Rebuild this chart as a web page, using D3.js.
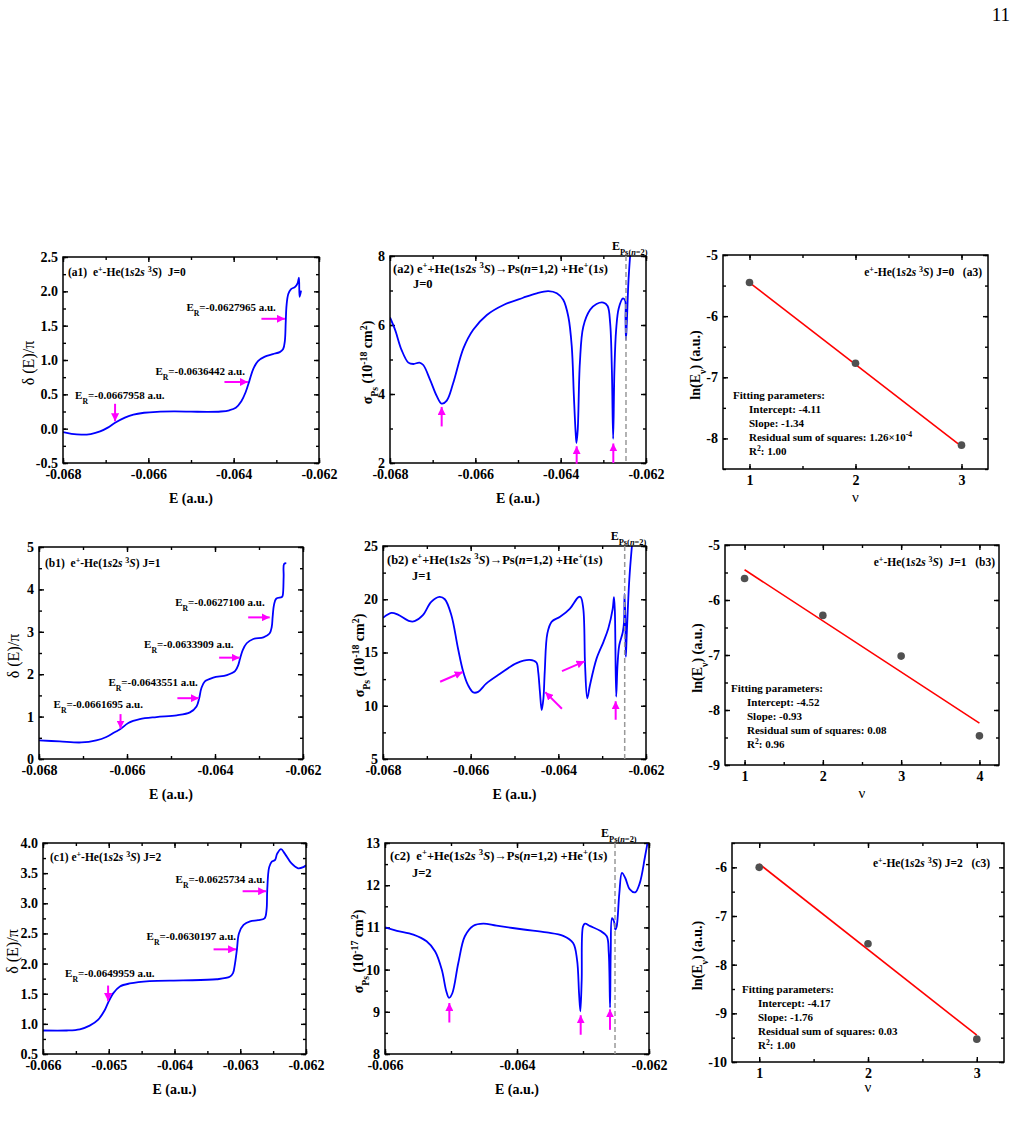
<!DOCTYPE html>
<html>
<head>
<meta charset="utf-8">
<script src="https://cdn.jsdelivr.net/npm/d3@7"></script>
<style>
  body { margin: 0; background: #fff; }
  svg text { white-space: pre; }
</style>
</head>
<body>
<svg id="fig" width="1016" height="1129"></svg>
<script>
// ---------------- data ----------------
// phase shift delta(E)/pi vs E (a.u.)
const a1Phase = [
  [-0.06800,-0.050],[-0.06780,-0.075],[-0.06757,-0.087],[-0.06735,-0.078],[-0.06713,-0.040],
  [-0.06695,0.015],[-0.06678,0.085],[-0.06655,0.160],[-0.06635,0.205],[-0.06610,0.232],
  [-0.06580,0.246],[-0.06540,0.251],[-0.06500,0.248],[-0.06460,0.244],[-0.06430,0.250],
  [-0.06410,0.268],[-0.06395,0.305],[-0.06382,0.400],[-0.06372,0.530],[-0.06363,0.700],
  [-0.06354,0.870],[-0.06343,0.985],[-0.06328,1.045],[-0.06308,1.085],[-0.06292,1.115],
  [-0.06284,1.160],[-0.06280,1.280],[-0.06278,1.550],[-0.06276,1.800],[-0.06272,1.960],
  [-0.06266,2.030],[-0.06256,2.065],[-0.06250,2.120],[-0.06247,2.200],[-0.062455,1.920],[-0.06242,2.010]
];
const b1Phase = [
  [-0.06800,0.44],[-0.06753,0.415],[-0.06704,0.39],[-0.06670,0.44],[-0.06647,0.52],[-0.06628,0.63],
  [-0.06615,0.705],[-0.06597,0.85],[-0.06571,0.94],[-0.06533,0.99],[-0.06487,1.03],[-0.06457,1.10],
  [-0.06442,1.24],[-0.06436,1.43],[-0.06431,1.67],[-0.06423,1.83],[-0.06404,1.92],[-0.06373,1.98],
  [-0.06354,2.08],[-0.06347,2.22],[-0.06343,2.37],[-0.06337,2.57],[-0.06328,2.73],[-0.06313,2.83],
  [-0.06290,2.87],[-0.06276,2.96],[-0.06271,3.12],[-0.06269,3.35],[-0.06266,3.63],[-0.06261,3.78],
  [-0.06248,3.82],[-0.06246,3.86],[-0.06244,4.30],[-0.06243,4.60],[-0.06238,4.62]
];
const c1Phase = [
  [-0.06600,0.89],[-0.06564,0.89],[-0.06544,0.91],[-0.06529,0.97],[-0.06516,1.07],[-0.06506,1.23],
  [-0.06501,1.35],[-0.06493,1.51],[-0.06483,1.62],[-0.06468,1.67],[-0.06438,1.71],[-0.06387,1.72],
  [-0.06336,1.74],[-0.06316,1.78],[-0.06311,1.84],[-0.06308,2.00],[-0.06305,2.24],[-0.06302,2.50],
  [-0.06295,2.64],[-0.06285,2.70],[-0.06273,2.72],[-0.06263,2.75],[-0.06260,2.89],[-0.06259,3.21],
  [-0.06256,3.60],[-0.06252,3.69],[-0.06247,3.72],[-0.06244,3.82],[-0.06238,3.90],[-0.06232,3.82],
  [-0.06222,3.66],[-0.06212,3.58],[-0.06204,3.60],[-0.06200,3.63]
];

// Ps formation cross sections vs E (a.u.)
const a2Sigma = [
  [-0.06800,6.22],[-0.06788,5.86],[-0.06773,5.28],[-0.06757,4.91],[-0.06745,4.87],[-0.06731,4.91],
  [-0.06722,4.84],[-0.06706,4.41],[-0.06690,3.93],[-0.06679,3.72],[-0.06667,3.81],[-0.06652,4.31],
  [-0.06628,5.32],[-0.06605,5.86],[-0.06573,6.29],[-0.06534,6.58],[-0.06488,6.79],[-0.06456,6.92],
  [-0.06429,6.98],[-0.06409,6.92],[-0.06394,6.73],[-0.06382,6.24],[-0.06374,5.38],[-0.06369,3.93],
  [-0.06365,2.90],[-0.06363,2.58],[-0.06360,2.96],[-0.06355,4.90],[-0.06347,5.95],[-0.06331,6.44],
  [-0.06316,6.61],[-0.06300,6.65],[-0.06290,6.55],[-0.06284,6.05],[-0.06280,4.70],[-0.06277,2.70],
  [-0.06274,4.70],[-0.06270,5.86],[-0.06264,6.48],[-0.06254,6.77],[-0.06249,6.71],[-0.06248,6.20],
  [-0.06247,5.57],[-0.06245,6.05],[-0.06241,7.30],[-0.06236,8.20]
];
const b2Sigma = [
  [-0.06800,18.25],[-0.06781,18.72],[-0.06766,18.56],[-0.06739,17.94],[-0.06728,17.94],[-0.06709,18.50],
  [-0.06690,19.75],[-0.06671,20.22],[-0.06659,20.00],[-0.06644,18.50],[-0.06629,15.40],[-0.06617,13.20],
  [-0.06606,11.94],[-0.06594,11.25],[-0.06583,11.30],[-0.06564,12.10],[-0.06533,13.00],[-0.06495,14.00],
  [-0.06465,14.30],[-0.06450,14.06],[-0.06446,13.20],[-0.06442,11.30],[-0.06438,9.60],[-0.06434,10.70],
  [-0.06431,13.20],[-0.06425,16.80],[-0.06415,17.90],[-0.06396,18.35],[-0.06374,19.10],[-0.06354,20.20],
  [-0.06349,20.20],[-0.06343,19.10],[-0.06339,13.80],[-0.06334,10.70],[-0.06328,11.90],[-0.06313,14.40],
  [-0.06297,16.00],[-0.06286,17.25],[-0.06276,19.10],[-0.06273,20.20],[-0.06271,18.80],[-0.06268,10.85],
  [-0.06265,13.80],[-0.06261,15.70],[-0.06253,16.90],[-0.06250,17.90],[-0.06249,20.50],[-0.06247,18.10],
  [-0.06246,14.60],[-0.06244,16.60],[-0.06238,21.90],[-0.06230,26.00]
];
const c2Sigma = [
  [-0.06600,11.00],[-0.06582,10.92],[-0.06557,10.83],[-0.06537,10.67],[-0.06524,10.43],[-0.06514,10.00],
  [-0.06507,9.48],[-0.06503,9.33],[-0.06498,9.44],[-0.06489,10.15],[-0.06479,10.79],[-0.06466,11.04],
  [-0.06451,11.09],[-0.06431,11.04],[-0.06390,10.95],[-0.06355,10.88],[-0.06330,10.80],[-0.06315,10.63],
  [-0.06309,10.23],[-0.06306,9.44],[-0.06304,9.01],[-0.06302,9.75],[-0.06300,11.02],[-0.06297,11.09],
  [-0.06289,11.03],[-0.06274,10.92],[-0.06264,10.79],[-0.06261,10.40],[-0.06259,9.10],[-0.06258,10.40],
  [-0.06256,11.22],[-0.06253,11.14],[-0.06251,10.95],[-0.06249,11.02],[-0.06245,11.80],[-0.06241,12.29],
  [-0.06236,12.17],[-0.06229,11.90],[-0.06221,11.83],[-0.06214,12.05],[-0.06206,12.68],[-0.06200,13.20]
];

// Ps(n=2) threshold position (dashed lines)
const ePsThreshold = { a2: -0.062469, b2: -0.062486, c2: -0.062515 };

// ln(E_nu) vs nu, and the linear fits
const a3Nu = [1, 2, 3];
const a3LnE = [-5.45, -6.77, -8.11];
const b3Nu = [1, 2, 3, 4];
const b3LnE = [-5.61, -6.28, -7.02, -8.47];
const c3Nu = [1, 2, 3];
const c3LnE = [-6.00, -7.57, -9.53];
const a3Fit = { intercept: -4.11, slope: -1.34 };
const b3Fit = { intercept: -4.52, slope: -0.93 };
const c3Fit = { intercept: -4.17, slope: -1.76 };

// resonance markers: tip in data coords
const a1Res = [
  { E: -0.06678, v: 0.10, label: "E_{R}=-0.0667958 a.u." },
  { E: -0.063654, v: 0.68, label: "E_{R}=-0.0636442 a.u." },
  { E: -0.062787, v: 1.60, label: "E_{R}=-0.0627965 a.u." }
];
const b1Res = [
  { E: -0.066147, v: 0.705, label: "E_{R}=-0.0661695 a.u." },
  { E: -0.064355, v: 1.434, label: "E_{R}=-0.0643551 a.u." },
  { E: -0.063429, v: 2.39, label: "E_{R}=-0.0633909 a.u." },
  { E: -0.062746, v: 3.34, label: "E_{R}=-0.0627100 a.u." }
];
const c1Res = [
  { E: -0.065010, v: 1.37, label: "E_{R}=-0.0649959 a.u." },
  { E: -0.063056, v: 2.236, label: "E_{R}=-0.0630197 a.u." },
  { E: -0.062599, v: 3.20, label: "E_{R}=-0.0625734 a.u." }
];
const a2Res = [ { E: -0.066789, v: 3.64 }, { E: -0.063625, v: 2.50 }, { E: -0.062766, v: 2.58 } ];
const b2Res = [ { E: -0.066172, v: 13.19 }, { E: -0.064306, v: 11.31 }, { E: -0.063392, v: 14.19 }, { E: -0.062692, v: 10.47 } ];
const c2Res = [ { E: -0.065025, v: 9.22 }, { E: -0.063035, v: 8.93 }, { E: -0.062591, v: 9.07 } ];

// ---------------- layout / style ----------------
const SERIF = "'Liberation Serif','Times New Roman',serif";
const BLUE = "#0000ff", MAGENTA = "#ff00ff", RED = "#ff0000";
const TICK_FONT = 14;

// arrow geometry (tail offset from tip, px) and label offset from tip (px)
const a1ArrowGeo = [ { tail: [0, -18], lab: [-40, -23] }, { tail: [-24, 0], lab: [-93, -7] }, { tail: [-24, 0], lab: [-99, -8] } ];
const b1ArrowGeo = [ { tail: [0, -15], lab: [-67, -21] }, { tail: [-22, 0], lab: [-91, -12] }, { tail: [-21, 0], lab: [-96, -10] }, { tail: [-22, 0], lab: [-95, -11] } ];
const c1ArrowGeo = [ { tail: [0, -16], lab: [-43, -25] }, { tail: [-23, 0], lab: [-90, -9] }, { tail: [-24, 0], lab: [-91, -8] } ];
const a2ArrowGeo = [ { tail: [0, 20] }, { tail: [0, 18] }, { tail: [0, 20] } ];
const b2ArrowGeo = [ { tail: [-23, 10] }, { tail: [17, 17] }, { tail: [-23, 10] }, { tail: [0, 19] } ];
const c2ArrowGeo = [ { tail: [0, 20] }, { tail: [0, 20] }, { tail: [0, 21] } ];

const svg = d3.select("#fig");
const defs = svg.append("defs");
defs.append("marker")
  .attr("id", "ahead").attr("markerUnits", "userSpaceOnUse")
  .attr("viewBox", "0 0 10 10").attr("refX", 10).attr("refY", 5)
  .attr("markerWidth", 8).attr("markerHeight", 8).attr("orient", "auto")
  .append("path").attr("d", "M0,0 L10,5 L0,10 z").attr("fill", MAGENTA);

// tiny markup: ^{..} superscript, _{..} subscript, *..* italic
function rich(sel, str) {
  let italic = false, shift = null, buf = "";
  const flush = () => {
    if (!buf) return;
    const t = sel.append("tspan").text(buf);
    if (italic) t.attr("font-style", "italic");
    if (shift) t.attr("baseline-shift", shift === "^" ? "super" : "sub").attr("font-size", "70%");
    buf = "";
  };
  for (let i = 0; i < str.length; i++) {
    const c = str[i];
    if ((c === "^" || c === "_") && str[i + 1] === "{") { flush(); shift = c; i++; }
    else if (c === "}" && shift) { flush(); shift = null; }
    else if (c === "*") { flush(); italic = !italic; }
    else buf += c;
  }
  flush();
  return sel;
}

function label(g, x, y, str, o = {}) {
  const t = g.append("text")
    .attr("x", x).attr("y", y)
    .attr("font-family", SERIF)
    .attr("font-size", o.size || 12)
    .attr("font-weight", o.weight || "bold")
    .attr("text-anchor", o.anchor || "start")
    .attr("fill", "#000");
  if (o.rotate) t.attr("transform", `rotate(-90,${x},${y})`);
  return rich(t, str);
}

function steps(d, step) {
  const lo = Math.min(d[0], d[1]), hi = Math.max(d[0], d[1]);
  const out = [];
  for (let k = Math.ceil(lo / step - 1e-6); k * step <= hi + 1e-9; k++) out.push(+(k * step).toFixed(7));
  return out;
}

function styleAxis(a) {
  a.select(".domain").remove();
  a.selectAll("line").attr("stroke", "#000").attr("stroke-width", 1.4);
  a.selectAll("text").attr("font-family", SERIF).attr("font-size", TICK_FONT).attr("font-weight", "bold").attr("fill", "#000");
}

// draw frame, axes and return scales
function panel(p) {
  const g = svg.append("g");
  const x = d3.scaleLinear().domain(p.xd).range([p.L, p.R]);
  const y = d3.scaleLinear().domain(p.yd).range([p.B, p.T]);
  const xMaj = steps(p.xd, p.xs), xMin = steps(p.xd, p.xs / 2);
  const yMaj = steps(p.yd, p.ys), yMin = steps(p.yd, p.ys / 2);
  const fx = d => d.toFixed(p.xdig), fy = d => d.toFixed(p.ydig);

  g.append("g").attr("transform", `translate(0,${p.B})`)
    .call(d3.axisBottom(x).tickValues(xMin).tickSize(-3).tickFormat("")).call(styleAxis);
  g.append("g").attr("transform", `translate(0,${p.B})`)
    .call(d3.axisBottom(x).tickValues(xMaj).tickSize(-5).tickPadding(6).tickFormat(fx)).call(styleAxis);
  g.append("g").attr("transform", `translate(0,${p.T})`)
    .call(d3.axisTop(x).tickValues(xMin).tickSize(-3).tickFormat("")).call(styleAxis);
  g.append("g").attr("transform", `translate(0,${p.T})`)
    .call(d3.axisTop(x).tickValues(xMaj).tickSize(-5).tickFormat("")).call(styleAxis);
  g.append("g").attr("transform", `translate(${p.L},0)`)
    .call(d3.axisLeft(y).tickValues(yMin).tickSize(-3).tickFormat("")).call(styleAxis);
  g.append("g").attr("transform", `translate(${p.L},0)`)
    .call(d3.axisLeft(y).tickValues(yMaj).tickSize(-5).tickPadding(5).tickFormat(fy)).call(styleAxis);
  g.append("g").attr("transform", `translate(${p.R},0)`)
    .call(d3.axisRight(y).tickValues(yMin).tickSize(-3).tickFormat("")).call(styleAxis);
  g.append("g").attr("transform", `translate(${p.R},0)`)
    .call(d3.axisRight(y).tickValues(yMaj).tickSize(-5).tickFormat("")).call(styleAxis);

  const clipId = "clip-" + p.id;
  defs.append("clipPath").attr("id", clipId).append("rect")
    .attr("x", p.L).attr("y", p.T).attr("width", p.R - p.L).attr("height", p.B - p.T);
  const plot = g.append("g").attr("clip-path", `url(#${clipId})`);

  g.append("rect").attr("x", p.L).attr("y", p.T).attr("width", p.R - p.L).attr("height", p.B - p.T)
    .attr("fill", "none").attr("stroke", "#000").attr("stroke-width", 1.5);

  // axis titles
  label(g, (p.L + p.R) / 2, p.B + (p.xTitleDy || 40), p.xTitle, { anchor: "middle", size: p.xTitleSize || 14, weight: p.xTitleWeight || "bold" });
  label(g, p.L + p.yTitleDx, (p.T + p.B) / 2 + 3, p.yTitle, { anchor: "middle", size: p.yTitleSize || 14, weight: p.yTitleWeight || "bold", rotate: true });

  return { g, plot, x, y };
}

const curveLine = (x, y) => d3.line().x(d => x(d[0])).y(d => y(d[1])).curve(d3.curveCatmullRom.alpha(0.5));

function drawCurve(c, data) {
  c.plot.append("path").datum(data)
    .attr("d", curveLine(c.x, c.y))
    .attr("fill", "none").attr("stroke", BLUE).attr("stroke-width", 1.8);
}

function drawArrows(c, res, geo) {
  res.forEach((r, i) => {
    const tx = c.x(r.E), ty = c.y(r.v);
    const [dx, dy] = geo[i].tail;
    const len = Math.hypot(dx, dy), ux = -dx / len, uy = -dy / len;
    c.g.append("line")
      .attr("x1", tx + dx).attr("y1", ty + dy)
      .attr("x2", tx - ux * 0.5).attr("y2", ty - uy * 0.5)
      .attr("stroke", MAGENTA).attr("stroke-width", 2)
      .attr("marker-end", "url(#ahead)");
    if (r.label) label(c.g, tx + geo[i].lab[0], ty + geo[i].lab[1], r.label, { size: 11 });
  });
}

function drawThreshold(c, E, p) {
  c.g.append("line")
    .attr("x1", c.x(E)).attr("x2", c.x(E)).attr("y1", p.T).attr("y2", p.B)
    .attr("stroke", "#999").attr("stroke-width", 1.5).attr("stroke-dasharray", "5,3");
  label(c.g, c.x(E) - 14, p.T - 6, "E_{Ps(*n*=2)}", { size: 12 });
}

function drawFit(c, nu, lnE, fit) {
  const ends = [d3.min(nu), d3.max(nu)];
  c.plot.append("line")
    .attr("x1", c.x(ends[0])).attr("y1", c.y(fit.intercept + fit.slope * ends[0]))
    .attr("x2", c.x(ends[1])).attr("y2", c.y(fit.intercept + fit.slope * ends[1]))
    .attr("stroke", RED).attr("stroke-width", 1.6);
  c.plot.selectAll("circle.pt").data(nu.map((n, i) => [n, lnE[i]])).join("circle")
    .attr("class", "pt").attr("cx", d => c.x(d[0])).attr("cy", d => c.y(d[1])).attr("r", 3.8)
    .attr("fill", "#505050");
}

function fitText(c, x0, y0, lines) {
  label(c.g, x0, y0, "Fitting parameters:", { size: 11 });
  lines.forEach((s, i) => label(c.g, x0 + 16, y0 + 14 * (i + 1), s, { size: 11 }));
}

const ET = "E (a.u.)";
const PHASE = "δ (E)/π";
const LNE = "ln(E_{ν}) (a.u.)";

// ---------------- panels ----------------
const pA1 = { id: "a1", L: 63, T: 257, R: 319, B: 463, xd: [-0.068, -0.062], xs: 0.002, xdig: 3, yd: [-0.5, 2.5], ys: 0.5, ydig: 1,
  xTitle: ET, yTitle: PHASE, yTitleDx: -29, yTitleSize: 16, yTitleWeight: "normal" };
const cA1 = panel(pA1);
drawCurve(cA1, a1Phase);
drawArrows(cA1, a1Res, a1ArrowGeo);
label(cA1.g, pA1.L + 5, pA1.T + 19, "(a1)  e^{+}-He(1*s*2*s* ^{3}*S*)  J=0", { size: 11.5 });

const pA2 = { id: "a2", L: 390, T: 256, R: 646, B: 463, xd: [-0.068, -0.062], xs: 0.002, xdig: 3, yd: [2, 8], ys: 2, ydig: 0,
  xTitle: ET, yTitle: "σ_{Ps} (10^{-18} cm^{2})", yTitleDx: -18 };
const cA2 = panel(pA2);
drawCurve(cA2, a2Sigma);
drawThreshold(cA2, ePsThreshold.a2, pA2);
drawArrows(cA2, a2Res, a2ArrowGeo);
label(cA2.g, pA2.L + 3, pA2.T + 17, "(a2) e^{+}+He(1*s*2*s* ^{3}*S*)→Ps(*n*=1,2) +He^{+}(1*s*)", { size: 12.5 });
label(cA2.g, pA2.L + 23, pA2.T + 32, "J=0", { size: 12.5 });

const pA3 = { id: "a3", L: 723, T: 255, R: 988, B: 469, xd: [0.75, 3.25], xs: 1, xdig: 0, yd: [-8.5, -5], ys: 1, ydig: 0,
  xTitle: "ν", xTitleWeight: "normal", xTitleSize: 15, xTitleDy: 33, yTitle: LNE, yTitleDx: -23 };
const cA3 = panel(pA3);
drawFit(cA3, a3Nu, a3LnE, a3Fit);
label(cA3.g, pA3.R - 6, pA3.T + 21, "e^{+}-He(1*s*2*s* ^{3}*S*) J=0   (a3)", { size: 11.5, anchor: "end" });
fitText(cA3, pA3.L + 10, pA3.B - 70, ["Intercept: " + a3Fit.intercept.toFixed(2), "Slope: " + a3Fit.slope.toFixed(2),
  "Residual sum of squares: 1.26×10^{-4}", "R^{2}: 1.00"]);

const pB1 = { id: "b1", L: 39, T: 547, R: 303, B: 759, xd: [-0.068, -0.062], xs: 0.002, xdig: 3, yd: [0, 5], ys: 1, ydig: 0,
  xTitle: ET, yTitle: PHASE, yTitleDx: -20, yTitleSize: 16, yTitleWeight: "normal" };
const cB1 = panel(pB1);
drawCurve(cB1, b1Phase);
drawArrows(cB1, b1Res, b1ArrowGeo);
label(cB1.g, pB1.L + 6, pB1.T + 20, "(b1)  e^{+}-He(1*s*2*s* ^{3}*S*) J=1", { size: 11.5 });

const pB2 = { id: "b2", L: 383, T: 546, R: 646, B: 759, xd: [-0.068, -0.062], xs: 0.002, xdig: 3, yd: [5, 25], ys: 5, ydig: 0,
  xTitle: ET, yTitle: "σ_{Ps} (10^{-18} cm^{2})", yTitleDx: -19 };
const cB2 = panel(pB2);
drawCurve(cB2, b2Sigma);
drawThreshold(cB2, ePsThreshold.b2, pB2);
drawArrows(cB2, b2Res, b2ArrowGeo);
label(cB2.g, pB2.L + 4, pB2.T + 18, "(b2) e^{+}+He(1*s*2*s* ^{3}*S*)→Ps(*n*=1,2) +He^{+}(1*s*)", { size: 12.5 });
label(cB2.g, pB2.L + 29, pB2.T + 34, "J=1", { size: 12.5 });

const pB3 = { id: "b3", L: 725, T: 545, R: 999, B: 765, xd: [0.75, 4.25], xs: 1, xdig: 0, yd: [-9, -5], ys: 1, ydig: 0,
  xTitle: "ν", xTitleWeight: "normal", xTitleSize: 15, xTitleDy: 33, yTitle: LNE, yTitleDx: -23 };
const cB3 = panel(pB3);
drawFit(cB3, b3Nu, b3LnE, b3Fit);
label(cB3.g, pB3.R - 4, pB3.T + 21, "e^{+}-He(1*s*2*s* ^{3}*S*)  J=1   (b3)", { size: 11.5, anchor: "end" });
fitText(cB3, pB3.L + 6, pB3.B - 73, ["Intercept: " + b3Fit.intercept.toFixed(2), "Slope: " + b3Fit.slope.toFixed(2),
  "Residual sum of squares: 0.08", "R^{2}: 0.96"]);

const pC1 = { id: "c1", L: 43, T: 843, R: 306, B: 1054, xd: [-0.066, -0.062], xs: 0.001, xdig: 3, yd: [0.5, 4], ys: 0.5, ydig: 1,
  xTitle: ET, yTitle: PHASE, yTitleDx: -25, yTitleSize: 16, yTitleWeight: "normal" };
const cC1 = panel(pC1);
drawCurve(cC1, c1Phase);
drawArrows(cC1, c1Res, c1ArrowGeo);
label(cC1.g, pC1.L + 7, pC1.T + 18, "(c1) e^{+}-He(1*s*2*s* ^{3}*S*) J=2", { size: 11.5 });

const pC2 = { id: "c2", L: 385, T: 843, R: 649, B: 1054, xd: [-0.066, -0.062], xs: 0.002, xdig: 3, yd: [8, 13], ys: 1, ydig: 0,
  xTitle: ET, yTitle: "σ_{Ps} (10^{-17} cm^{2})", yTitleDx: -22 };
const cC2 = panel(pC2);
drawCurve(cC2, c2Sigma);
drawThreshold(cC2, ePsThreshold.c2, pC2);
drawArrows(cC2, c2Res, c2ArrowGeo);
label(cC2.g, pC2.L + 5, pC2.T + 17, "(c2)  e^{+}+He(1*s*2*s* ^{3}*S*)→Ps(*n*=1,2) +He^{+}(1*s*)", { size: 12.5 });
label(cC2.g, pC2.L + 27, pC2.T + 34, "J=2", { size: 12.5 });

const pC3 = { id: "c3", L: 732, T: 843, R: 1004, B: 1062, xd: [0.75, 3.25], xs: 1, xdig: 0, yd: [-10, -5.5], ys: 1, ydig: 0,
  xTitle: "ν", xTitleWeight: "normal", xTitleSize: 15, xTitleDy: 30, yTitle: LNE, yTitleDx: -30 };
const cC3 = panel(pC3);
drawFit(cC3, c3Nu, c3LnE, c3Fit);
label(cC3.g, pC3.R - 14, pC3.T + 24, "e^{+}-He(1*s*2*s* ^{3}*S*) J=2   (c3)", { size: 11.5, anchor: "end" });
fitText(cC3, pC3.L + 10, pC3.B - 69, ["Intercept: " + c3Fit.intercept.toFixed(2), "Slope: " + c3Fit.slope.toFixed(2),
  "Residual sum of squares: 0.03", "R^{2}: 1.00"]);

// page number
label(svg, 1010, 21, "11", { size: 19, weight: "normal", anchor: "end" });
</script>
</body>
</html>
